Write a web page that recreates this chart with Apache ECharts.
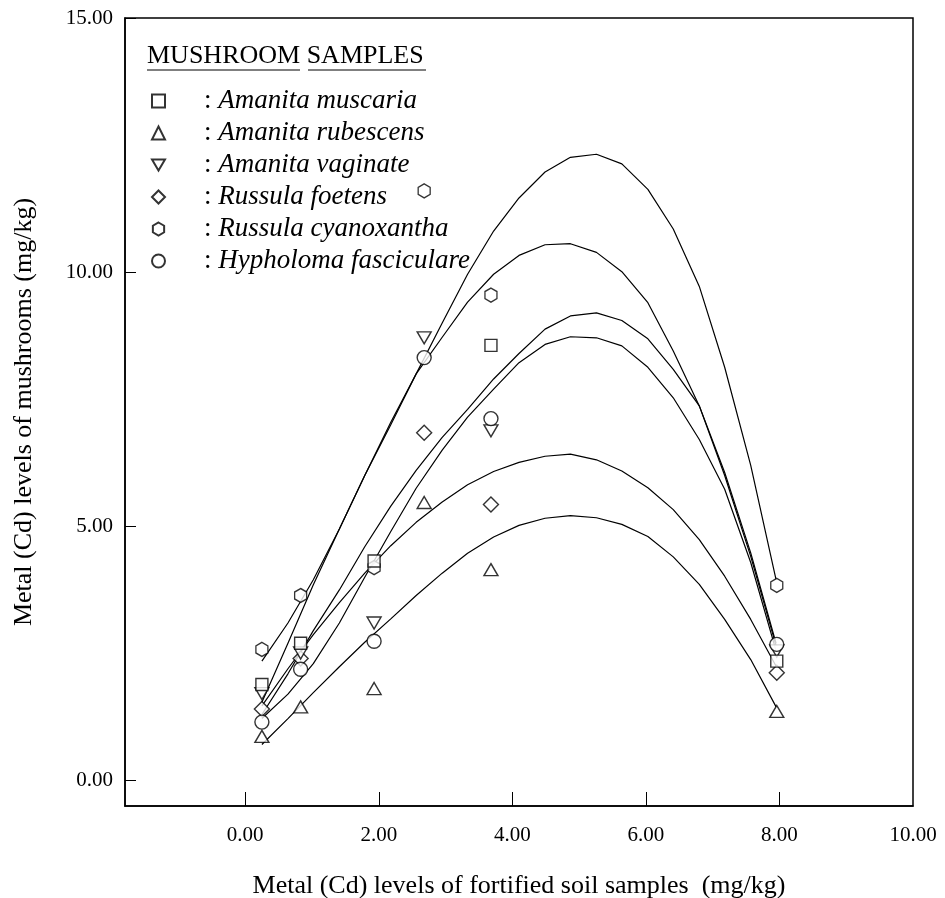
<!DOCTYPE html>
<html>
<head>
<meta charset="UTF-8">
<title>Cd levels in mushrooms</title>
<script src="https://cdn.jsdelivr.net/npm/echarts@6/dist/echarts.min.js"></script>
<style>
  html, body { margin: 0; padding: 0; background: #fff; }
  #main { width: 945px; height: 898px; }
</style>
</head>
<body>
<div id="main"></div>
<script type="text/javascript">
// soil Cd levels where mushrooms were sampled
var sampleX = [0.25, 0.83, 1.93, 2.68, 3.68, 7.96];

var muscaria    = [1.89, 2.70, 4.32, null, 8.56, 2.35];
var rubescens   = [0.87, 1.45, 1.81, 5.47, 4.15, 1.36];
var vaginate    = [1.71, 2.51, 3.10, 8.71, 6.88, 2.55];
var foetens     = [1.41, 2.40, null, 6.84, 5.43, 2.12];
var cyanoxantha = [2.58, 3.64, 4.19, 11.60, 9.55, 3.84];
var fasciculare = [1.15, 2.19, 2.74, 8.32, 7.12, 2.68];

// fitted curves, read at the polyline vertices
var fitX = [0.25, 0.64, 1.02, 1.41, 1.79, 2.18, 2.56, 2.95, 3.33, 3.72, 4.10,
            4.49, 4.87, 5.26, 5.64, 6.03, 6.41, 6.80, 7.18, 7.57, 7.95];
var fitA = [1.54, 2.70, 3.85, 4.95, 6.00, 7.00, 8.00, 9.00, 9.96, 10.81, 11.46,
            11.97, 12.26, 12.32, 12.13, 11.63, 10.85, 9.72, 8.13, 6.20, 3.95];
var fitB = [2.35, 3.10, 3.95, 4.95, 6.00, 7.05, 8.00, 8.72, 9.41, 9.96, 10.33,
            10.54, 10.56, 10.39, 10.01, 9.40, 8.45, 7.37, 6.06, 4.48, 2.70];
var fitC = [1.30, 2.10, 2.95, 3.75, 4.60, 5.40, 6.10, 6.75, 7.30, 7.90, 8.40,
            8.88, 9.14, 9.20, 9.05, 8.69, 8.09, 7.37, 6.00, 4.41, 2.65];
var fitD = [1.22, 1.70, 2.30, 3.10, 4.00, 4.90, 5.75, 6.50, 7.15, 7.70, 8.22,
            8.58, 8.73, 8.71, 8.55, 8.13, 7.53, 6.71, 5.73, 4.29, 2.55];
var fitE = [1.47, 2.20, 2.87, 3.50, 4.08, 4.62, 5.08, 5.48, 5.82, 6.08, 6.26,
            6.38, 6.42, 6.31, 6.09, 5.76, 5.33, 4.74, 4.02, 3.17, 2.25];
var fitF = [0.71, 1.22, 1.73, 2.24, 2.72, 3.18, 3.64, 4.08, 4.47, 4.79, 5.02,
            5.16, 5.21, 5.17, 5.04, 4.80, 4.40, 3.86, 3.17, 2.38, 1.45];

var xTicks = [0, 2, 4, 6, 8, 10];
var yTicks = [0, 5, 10, 15];

var FONT = 'Liberation Serif';
var hexagon = 'path://M50,0 L93.3,25 L93.3,75 L50,100 L6.7,75 L6.7,25 Z';
var downTriangle = 'path://M0,0 L100,0 L50,86 Z';

function pairs(xs, ys) {
  var out = [];
  for (var i = 0; i < xs.length; i++) {
    if (ys[i] != null) out.push([xs[i], ys[i]]);
  }
  return out;
}

var markStyle = { color: '#fff', borderColor: '#000', borderWidth: 1.4 };

function scatter(name, values, symbol, size) {
  return {
    name: name,
    type: 'scatter',
    data: pairs(sampleX, values),
    symbol: symbol,
    symbolSize: size,
    itemStyle: markStyle,
    z: 5,
    emphasis: { disabled: true }
  };
}

function curve(name, values) {
  return {
    name: name,
    type: 'line',
    data: pairs(fitX, values),
    showSymbol: false,
    smooth: false,
    silent: true,
    lineStyle: { color: '#000', width: 1.2 },
    z: 2
  };
}

var myChart = echarts.init(document.getElementById('main'));

var option = {
  backgroundColor: '#fff',
  animation: false,
  textStyle: { fontFamily: FONT, color: '#000' },
  grid: {
    left: 125, right: 32, top: 18, bottom: 92,
    outerBoundsMode: 'none',
    show: true, borderColor: '#000', borderWidth: 1.5
  },
  legend: {
    orient: 'vertical',
    left: 146,
    top: 80,
    itemWidth: 13,
    itemHeight: 13,
    itemGap: 0,
    selectedMode: false,
    data: ['Amanita muscaria', 'Amanita rubescens', 'Amanita vaginate',
           'Russula foetens', 'Russula cyanoxantha', 'Hypholoma fasciculare'],
    formatter: function (name) { return '{c|:} {i|' + name + '}'; },
    textStyle: {
      fontFamily: FONT,
      fontSize: 27,
      color: '#000',
      lineHeight: 32,
      rich: {
        c: { fontFamily: FONT, fontSize: 27, lineHeight: 32, color: '#000', padding: [0, 0, 0, 34] },
        i: { fontFamily: FONT, fontSize: 27, lineHeight: 32, color: '#000', fontStyle: 'italic' }
      }
    }
  },
  graphic: [
    {
      type: 'text', left: 147, top: 43,
      style: { text: 'MUSHROOM SAMPLES', font: '26px "Liberation Serif"', fill: '#000' }
    },
    { type: 'line', shape: { x1: 147, y1: 70, x2: 300, y2: 70 }, style: { stroke: '#000', lineWidth: 1 } },
    { type: 'line', shape: { x1: 308, y1: 70, x2: 426, y2: 70 }, style: { stroke: '#000', lineWidth: 1 } }
  ],
  xAxis: {
    type: 'value',
    min: -1.8,
    max: 10,
    name: 'Metal (Cd) levels of fortified soil samples  (mg/kg)',
    nameLocation: 'middle',
    nameGap: 67,
    nameTextStyle: { fontFamily: FONT, fontSize: 26, color: '#000' },
    axisLine: { show: true, onZero: false, lineStyle: { color: '#000', width: 1.5 } },
    axisTick: { show: true, inside: true, length: 14, customValues: [0, 2, 4, 6, 8],
                lineStyle: { color: '#000', width: 1 } },
    axisLabel: {
      customValues: xTicks, margin: 19,
      fontFamily: FONT, fontSize: 21, color: '#000',
      formatter: function (v) { return v.toFixed(2); }
    },
    splitLine: { show: false }
  },
  yAxis: {
    type: 'value',
    min: -0.5,
    max: 15,
    name: 'Metal (Cd) levels of mushrooms (mg/kg)',
    nameLocation: 'middle',
    nameGap: 88,
    nameTextStyle: { fontFamily: FONT, fontSize: 26, color: '#000' },
    axisLine: { show: true, onZero: false, lineStyle: { color: '#000', width: 1.5 } },
    axisTick: { show: true, inside: true, length: 11, customValues: yTicks,
                lineStyle: { color: '#000', width: 1 } },
    axisLabel: {
      customValues: yTicks, margin: 12,
      fontFamily: FONT, fontSize: 21, color: '#000',
      formatter: function (v) { return v.toFixed(2); }
    },
    splitLine: { show: false }
  },
  series: [
    curve('fitA', fitA),
    curve('fitB', fitB),
    curve('fitC', fitC),
    curve('fitD', fitD),
    curve('fitE', fitE),
    curve('fitF', fitF),
    scatter('Amanita rubescens', rubescens, 'triangle', [14, 12]),
    scatter('Russula foetens', foetens, 'diamond', [15, 15]),
    scatter('Amanita vaginate', vaginate, downTriangle, [14, 12]),
    scatter('Russula cyanoxantha', cyanoxantha, hexagon, [12, 14]),
    scatter('Hypholoma fasciculare', fasciculare, 'circle', 14),
    scatter('Amanita muscaria', muscaria, 'rect', 12)
  ]
};

myChart.setOption(option);
</script>
</body>
</html>
